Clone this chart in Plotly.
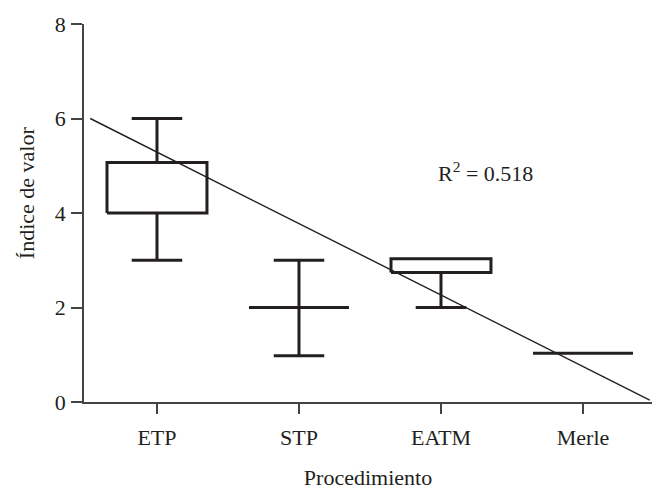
import plotly.graph_objects as go

categories = ["ETP", "STP", "EATM", "Merle"]
q1 = [4.0, 2.0, 2.74, 1.03]
q3 = [5.07, 2.0, 3.03, 1.03]
lower = [3.0, 0.98, 2.0, 1.03]
upper = [6.0, 3.0, 3.03, 1.03]

trend_x = [-0.47, 3.47]
trend_y = [6.0, 0.04]
r2_text = "R<sup>2</sup> = 0.518"

BOX_HALF = 0.352
CAP_HALF = 0.178
INK = "#231f20"
FONT = "Liberation Serif"
FS = 22

fig = go.Figure()

xs, ys = [], []
for i in range(len(categories)):
    a, b = i - BOX_HALF, i + BOX_HALF
    if q3[i] > q1[i]:
        xs += [a, b, b, a, a, None]
        ys += [q1[i], q1[i], q3[i], q3[i], q1[i], None]
    else:
        xs += [a, b, None]
        ys += [q1[i], q1[i], None]
    if upper[i] > q3[i]:
        xs += [i, i, None, i - CAP_HALF, i + CAP_HALF, None]
        ys += [q3[i], upper[i], None, upper[i], upper[i], None]
    if lower[i] < q1[i]:
        xs += [i, i, None, i - CAP_HALF, i + CAP_HALF, None]
        ys += [q1[i], lower[i], None, lower[i], lower[i], None]

fig.add_trace(go.Scatter(x=xs, y=ys, mode="lines",
                         line=dict(color=INK, width=3), hoverinfo="skip",
                         showlegend=False, cliponaxis=False))
fig.add_trace(go.Scatter(x=trend_x, y=trend_y, mode="lines",
                         line=dict(color=INK, width=1.4), hoverinfo="skip",
                         showlegend=False, cliponaxis=False))

fig.add_annotation(x=2.31, y=4.87, text=r2_text, showarrow=False,
                   font=dict(family=FONT, size=FS, color=INK))
fig.add_annotation(x=-0.1, y=0.553, xref="paper", yref="paper",
                   xanchor="center", yanchor="middle",
                   text="Índice de valor", textangle=-90, showarrow=False,
                   font=dict(family=FONT, size=FS, color=INK))

tick_font = dict(family=FONT, size=FS, color=INK)

fig.update_layout(
    width=652, height=490,
    margin=dict(l=84, r=0, t=24, b=88, autoexpand=False),
    paper_bgcolor="white", plot_bgcolor="white",
    font=dict(family=FONT, size=FS, color=INK),
    xaxis=dict(range=[-0.514, 3.486], tickvals=[0, 1, 2, 3], ticktext=categories,
               showgrid=False, zeroline=False, showline=True, linecolor="#444",
               linewidth=1.5, ticks="outside", ticklen=10, tickcolor="#444",
               tickwidth=1.5, ticklabelstandoff=5, automargin=False,
               tickfont=tick_font,
               title=dict(text="Procedimiento", standoff=22, font=tick_font)),
    yaxis=dict(range=[0, 8], tickvals=[0, 2, 4, 6, 8], automargin=False,
               showgrid=False, zeroline=False, showline=True, linecolor="#444",
               linewidth=1.5, ticks="outside", ticklen=11, tickcolor="#444",
               tickwidth=1.5, ticklabelstandoff=1, tickfont=tick_font),
)

fig.write_html("out.html", config={"displayModeBar": False},
               post_script="document.body.style.margin='0';")
